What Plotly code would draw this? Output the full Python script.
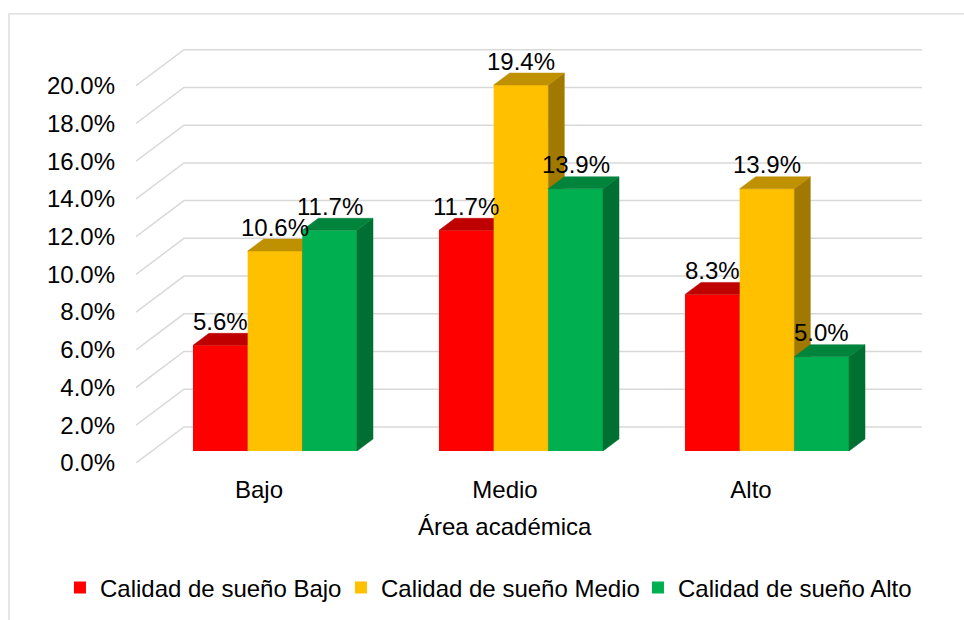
import plotly.graph_objects as go

# ---------------- data ----------------
categories = ["Bajo", "Medio", "Alto"]
series_names = ["Calidad de sueño Bajo", "Calidad de sueño Medio", "Calidad de sueño Alto"]
vals_calidad_bajo = [5.6, 11.7, 8.3]
vals_calidad_medio = [10.6, 19.4, 13.9]
vals_calidad_alto = [11.7, 13.9, 5.0]
y_tick_values = [0, 2, 4, 6, 8, 10, 12, 14, 16, 18, 20]
x_axis_title = "Área académica"

series_values = [vals_calidad_bajo, vals_calidad_medio, vals_calidad_alto]
front_colors = ["#FF0000", "#FFC000", "#00B050"]
legend_ids = ["legend", "legend2", "legend3"]
legend_x = [0.0622, 0.3537, 0.6618]   # container fractions of each legend entry

FONT = "Liberation Sans, Arial, sans-serif"
FS = 24

# 3D look geometry (in axis units)
DX = 0.195      # total depth, x units
DY = 1.91       # total depth, y units (%)
W = 2.0 / 9.0   # bar width
FX, FY = DX / 3, DY / 3     # bar front plane offset
BDX, BDY = DX / 3, DY / 3   # bar depth
n_cat = len(categories)


def shade(hex_color, f):
    h = hex_color.lstrip("#")
    r, g, b = (int(h[i:i + 2], 16) for i in (0, 2, 4))
    return "rgb(%d,%d,%d)" % (round(r * f), round(g * f), round(b * f))


fig = go.Figure()
annotations = []

for j, (name, vals, col) in enumerate(zip(series_names, series_values, front_colors)):
    off = (j - 1.5) * W + FX
    xs = [i + 0.5 for i in range(n_cat)]
    fig.add_trace(go.Bar(
        x=xs, y=vals, base=FY, offset=off, width=W, name=name,
        marker=dict(color=col, line=dict(width=0)), zorder=2 * j,
        hoverinfo="skip", legend=legend_ids[j],
    ))
    top_x, top_y, side_x, side_y = [], [], [], []
    for i, v in enumerate(vals):
        xl = xs[i] + off
        xr = xl + W
        base = FY
        top = FY + v
        top_x += [xl, xl + BDX, xr + BDX, xr, xl, None]
        top_y += [top, top + BDY, top + BDY, top, top, None]
        side_x += [xr, xr, xr + BDX, xr + BDX, xr, None]
        side_y += [base, top, top + BDY, base + BDY, base, None]
        annotations.append(dict(
            x=(xl + xr) / 2, y=v + DY, xref="x", yref="y",
            text="%.1f%%" % v, showarrow=False, yanchor="middle",
            font=dict(family=FONT, size=FS, color="#000000"),
        ))
    fig.add_trace(go.Scatter(
        x=side_x, y=side_y, mode="lines", fill="toself",
        fillcolor=shade(col, 0.63), line=dict(color=shade(col, 0.63), width=0.5),
        showlegend=False, hoverinfo="skip", zorder=2 * j + 1,
    ))
    fig.add_trace(go.Scatter(
        x=top_x, y=top_y, mode="lines", fill="toself",
        fillcolor=shade(col, 0.75), line=dict(color=shade(col, 0.75), width=0.5),
        showlegend=False, hoverinfo="skip", zorder=2 * j + 1,
    ))

# axis title, centred under the category band (front plane)
annotations.append(dict(
    x=n_cat / 2, y=-0.154, xref="x", yref="paper", text=x_axis_title,
    showarrow=False, xanchor="center", yanchor="middle",
    font=dict(family=FONT, size=FS, color="#000000"),
))

# 3D gridlines (front slant + back wall)
shapes = []
for t in y_tick_values:
    shapes.append(dict(
        type="path", xref="x", yref="y", layer="below",
        path="M 0,%g L %g,%g L %g,%g" % (t, DX, t + DY, n_cat + DX, t + DY),
        line=dict(color="#D9D9D9", width=1.5),
    ))
# chart-area border
shapes.append(dict(
    type="rect", xref="paper", yref="paper",
    x0=-0.1616, x1=1.065, y0=-0.40, y1=1.082,
    line=dict(color="#D9D9D9", width=1.3), layer="below",
))

legend_common = dict(
    orientation="h", xref="container", yref="container",
    xanchor="left", y=0.0516, yanchor="middle",
    font=dict(family=FONT, size=FS, color="#000000"),
    itemwidth=30, bgcolor="rgba(0,0,0,0)",
)

fig.update_layout(
    width=964, height=620,
    margin=dict(l=136, r=42, t=48, b=157),
    paper_bgcolor="white", plot_bgcolor="white",
    barmode="overlay",
    font=dict(family=FONT, size=FS, color="#000000"),
    shapes=shapes,
    annotations=annotations,
    showlegend=True,
    legend=dict(x=legend_x[0], **legend_common),
    legend2=dict(x=legend_x[1], **legend_common),
    legend3=dict(x=legend_x[2], **legend_common),
    xaxis=dict(
        range=[0, n_cat + DX], tickvals=[i + 0.5 for i in range(n_cat)],
        ticktext=categories, showgrid=False, zeroline=False, showline=False,
        ticks="", ticklabelstandoff=10,
        tickfont=dict(family=FONT, size=FS, color="#000000"),
        fixedrange=True,
    ),
    yaxis=dict(
        range=[0, 22], tickvals=y_tick_values,
        ticktext=["%.1f%%" % t for t in y_tick_values],
        showgrid=False, zeroline=False, showline=False, ticks="",
        ticklabelstandoff=20,
        tickfont=dict(family=FONT, size=FS, color="#000000"),
        fixedrange=True,
    ),
)

fig.write_html("out.html", config={"displayModeBar": False},
               post_script="document.body.style.margin='0';")
